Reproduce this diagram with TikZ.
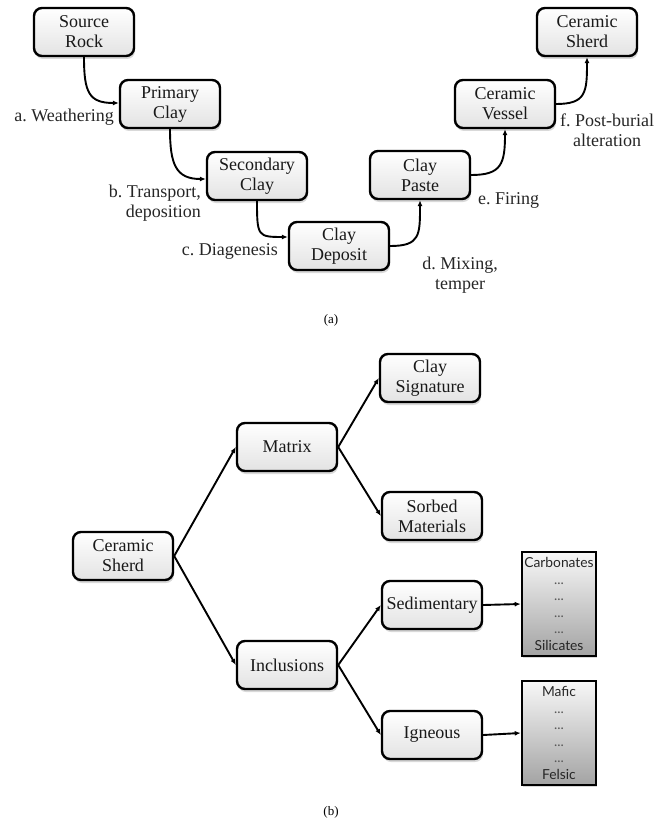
\documentclass[tikz,border=0pt]{standalone}
\usepackage{fontspec}
\setmainfont{Liberation Serif}
\newfontfamily\boxsans{Lato}
\usetikzlibrary{shadows,arrows.meta}
\frenchspacing
\begin{document}
\begin{tikzpicture}[x=1pt,y=-1pt,
  proc/.style={draw=black, line width=2.4pt, rounded corners=8pt,
    top color=white, bottom color=gray!22, minimum width=100pt,
    minimum height=48pt, align=center, inner sep=2pt, text=black!90,
    font=\fontsize{18}{20}\selectfont,
    drop shadow={shadow xshift=1pt, shadow yshift=-3pt, opacity=0.3}},
  lst/.style={draw=black, line width=2.6pt, top color=gray!6,
    bottom color=gray!72, minimum width=74pt, minimum height=104pt,
    align=center, inner sep=1pt, text=black!85,
    font=\boxsans\fontsize{13.8}{16.6}\selectfont,
    drop shadow={shadow xshift=1pt, shadow yshift=-2pt, opacity=0.3}},
  lab/.style={font=\fontsize{18}{20}\selectfont, text=black!85, inner sep=0pt},
  figcap/.style={font=\fontsize{13}{15}\selectfont, inner sep=0pt},
  conn/.style={line width=1.9pt, -{Latex[length=6pt,width=5pt]}}
]
\useasboundingbox (0,0) rectangle (662,832);

% ---------- (a) ----------
\node[proc] (sr) at (84,32) {Source\\Rock};
\node[proc] (pc) at (170,104) {Primary\\Clay};
\node[proc] (sc) at (257,176) {Secondary\\Clay};
\node[proc] (cd) at (339,246) {Clay\\Deposit};
\node[proc] (cp) at (420,175) {Clay\\Paste};
\node[proc] (cv) at (505,104) {Ceramic\\Vessel};
\node[proc] (cs) at (587,32) {Ceramic\\Sherd};

\draw[conn] (sr.south) .. controls +(0,35) and +(-30,0) .. ([yshift=1pt]pc.west);
\draw[conn] (pc.south) .. controls +(0,35) and +(-30,0) .. ([yshift=-3pt]sc.west);
\draw[conn] (sc.south) .. controls +(0,35) and +(-30,0) .. ([yshift=9pt]cd.west);
\draw[conn] (cd.east) .. controls +(30,0) and +(0,35) .. (cp.south);
\draw[conn] (cp.east) .. controls +(30,0) and +(0,35) .. (cv.south);
\draw[conn] (cv.east) .. controls +(30,0) and +(0,35) .. (cs.south);

\node[lab, anchor=east] (la) at (114,117) {a. Weathering};
\node[lab, anchor=east, align=right] (lb) at (201,203) {b. Transport,\\deposition};
\node[lab, anchor=east] (lc) at (278,251) {c. Diagenesis};
\node[lab, align=center] (ld) at (460,275) {d. Mixing,\\temper};
\node[lab, anchor=west] (le) at (478,200) {e. Firing};
\node[lab, align=center] (lf) at (607,130) {f. Post-burial\\alteration};

\node[figcap] (capa) at (331,320) {(a)};

% ---------- (b) ----------
\node[proc] (sh) at (123,556) {Ceramic\\Sherd};
\node[proc] (mx) at (287,447) {Matrix};
\node[proc] (inc) at (287,665) {Inclusions};
\node[proc] (sig) at (430,378) {Clay\\Signature};
\node[proc] (sorb) at (432,516) {Sorbed\\Materials};
\node[proc] (sed) at (432,605) {Sedimentary};
\node[proc] (ign) at (432,735) {Igneous};
\node[lst] (carb) at (559,604) {Carbonates\\{\color{gray!70!black}...}\\{\color{gray!70!black}...}\\{\color{gray!70!black}...}\\{\color{gray!70!black}...}\\Silicates};
\node[lst] (maf) at (559,733) {Mafic\\{\color{gray!70!black}...}\\{\color{gray!70!black}...}\\{\color{gray!70!black}...}\\{\color{gray!70!black}...}\\Felsic};

\draw[conn] (sh.east) -- (mx.west);
\draw[conn] (sh.east) -- (inc.west);
\draw[conn] (mx.east) -- (sig.west);
\draw[conn] (mx.east) -- (sorb.west);
\draw[conn] (inc.east) -- (sed.west);
\draw[conn] (inc.east) -- (ign.west);
\draw[conn] (sed.east) -- (carb.west);
\draw[conn] (ign.east) -- (maf.west);

\node[figcap] (capb) at (331,812) {(b)};
\end{tikzpicture}
\end{document}
